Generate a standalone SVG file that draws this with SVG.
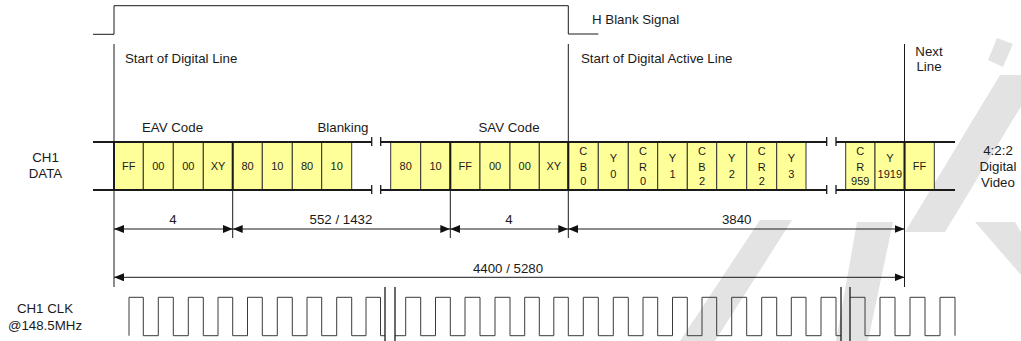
<svg xmlns="http://www.w3.org/2000/svg" width="1021" height="341" viewBox="0 0 1021 341">
<style>
.t{font-family:"Liberation Sans",Arial,sans-serif;font-size:13.3px;fill:#1a1a1a}
.m{text-anchor:middle}
.c{font-family:"Liberation Sans",Arial,sans-serif;font-size:11px;fill:#1a1a1a;text-anchor:middle}
.ln{stroke:#1a1a1a;stroke-width:1;fill:none}
.bar{stroke:#1a1a1a;stroke-width:2;fill:none}
.thk{stroke:#1a1a1a;stroke-width:2;fill:none}
.tick{stroke:#1a1a1a;stroke-width:1.3;fill:none}
.cell{fill:#FFFF99;stroke:#333;stroke-width:1}
.clk{stroke:#3a3a3a;stroke-width:1;fill:none}
.dim{stroke:#1a1a1a;stroke-width:1;fill:none;marker-start:url(#ah);marker-end:url(#ah)}
.wm{fill:#e3e3e3;stroke:none}
</style>
<defs>
<marker id="ah" viewBox="0 0 10 8" refX="10" refY="4" markerWidth="10" markerHeight="8" markerUnits="userSpaceOnUse" orient="auto-start-reverse"><path d="M0,0 L10,4 L0,8 z" fill="#111"/></marker>
</defs>
<rect width="1021" height="341" fill="#fff"/>

<g id="watermark">
<polygon class="wm" points="680,341 715,341 792,220 760,220"/>
<polygon class="wm" points="857,222 893,222 868,341 836,341"/>
<polygon class="wm" points="905,232 945,232 1040,75 1000,75"/>
<polygon class="wm" points="997,38 1013,44 1003,67 988,60"/>
<polygon class="wm" points="975,222 1015,222 1021,232 1021,275"/>
</g>

<g id="hblank">
<polyline class="ln" stroke-width="1.2" points="93,34.3 114,34.3 114,5.7 568.3,5.7 568.3,34 598.3,34"/>
<text class="t" x="592" y="24">H Blank Signal</text>
</g>

<g id="markers-text">
<text class="t" x="125" y="63">Start of Digital Line</text>
<text class="t" x="581" y="63">Start of Digital Active Line</text>
<text class="t m" x="929" y="55.5">Next</text>
<text class="t m" x="929" y="70.5">Line</text>
<text class="t m" x="172.5" y="131.5">EAV Code</text>
<text class="t" x="368.5" y="131.5" text-anchor="end">Blanking</text>
<text class="t m" x="509" y="131.5">SAV Code</text>
<text class="t m" x="45.5" y="162">CH1</text>
<text class="t m" x="45.5" y="177.5">DATA</text>
<text class="t m" x="998" y="155">4:2:2</text>
<text class="t m" x="998" y="170.5">Digital</text>
<text class="t m" x="998" y="186.5">Video</text>
<text class="t m" x="45" y="313">CH1 CLK</text>
<text class="t m" x="45" y="330">@148.5MHz</text>
</g>

<g id="data-cells">
<rect class="cell" x="114" y="142" width="29.3" height="48"/><text class="c" x="128.7" y="169.5">FF</text>
<rect class="cell" x="143.3" y="142" width="30" height="48"/><text class="c" x="158.3" y="169.5">00</text>
<rect class="cell" x="173.3" y="142" width="30" height="48"/><text class="c" x="188.3" y="169.5">00</text>
<rect class="cell" x="203.3" y="142" width="29.4" height="48"/><text class="c" x="218" y="169.5">XY</text>
<rect class="cell" x="232.7" y="142" width="29.6" height="48"/><text class="c" x="247.5" y="169.5">80</text>
<rect class="cell" x="262.3" y="142" width="30" height="48"/><text class="c" x="277.3" y="169.5">10</text>
<rect class="cell" x="292.3" y="142" width="29.4" height="48"/><text class="c" x="307" y="169.5">80</text>
<rect class="cell" x="321.7" y="142" width="30" height="48"/><text class="c" x="336.7" y="169.5">10</text>

<rect class="cell" x="390.7" y="142" width="30" height="48"/><text class="c" x="405.7" y="169.5">80</text>
<rect class="cell" x="420.7" y="142" width="29.6" height="48"/><text class="c" x="435.5" y="169.5">10</text>
<rect class="cell" x="450.3" y="142" width="29.7" height="48"/><text class="c" x="465.2" y="169.5">FF</text>
<rect class="cell" x="480" y="142" width="30" height="48"/><text class="c" x="495" y="169.5">00</text>
<rect class="cell" x="510" y="142" width="29.3" height="48"/><text class="c" x="524.7" y="169.5">00</text>
<rect class="cell" x="539.3" y="142" width="29" height="48"/><text class="c" x="553.8" y="169.5">XY</text>
<rect class="cell" x="568.3" y="142" width="30" height="48"/><text class="c" x="583.3" y="155">C</text><text class="c" x="583.3" y="170.5">B</text><text class="c" x="583.3" y="184.5">0</text>
<rect class="cell" x="598.3" y="142" width="30" height="48"/><text class="c" x="613.3" y="162">Y</text><text class="c" x="613.3" y="177.5">0</text>
<rect class="cell" x="628.3" y="142" width="29.4" height="48"/><text class="c" x="643" y="155">C</text><text class="c" x="643" y="170.5">R</text><text class="c" x="643" y="184.5">0</text>
<rect class="cell" x="657.7" y="142" width="29.6" height="48"/><text class="c" x="672.5" y="162">Y</text><text class="c" x="672.5" y="177.5">1</text>
<rect class="cell" x="687.3" y="142" width="29.4" height="48"/><text class="c" x="702" y="155">C</text><text class="c" x="702" y="170.5">B</text><text class="c" x="702" y="184.5">2</text>
<rect class="cell" x="716.7" y="142" width="30" height="48"/><text class="c" x="731.7" y="162">Y</text><text class="c" x="731.7" y="177.5">2</text>
<rect class="cell" x="746.7" y="142" width="30" height="48"/><text class="c" x="761.7" y="155">C</text><text class="c" x="761.7" y="170.5">R</text><text class="c" x="761.7" y="184.5">2</text>
<rect class="cell" x="776.7" y="142" width="29.3" height="48"/><text class="c" x="791.3" y="162">Y</text><text class="c" x="791.3" y="177.5">3</text>

<rect class="cell" x="845.7" y="142" width="29.3" height="48"/><text class="c" x="860.3" y="155">C</text><text class="c" x="860.3" y="170.5">R</text><text class="c" x="860.3" y="184.5">959</text>
<rect class="cell" x="875" y="142" width="29.7" height="48"/><text class="c" x="889.8" y="162">Y</text><text class="c" x="889.8" y="177.5">1919</text>
<rect class="cell" x="904.7" y="142" width="29.6" height="48"/><text class="c" x="919.5" y="169.5">FF</text>
</g>

<g id="data-bar">
<path class="bar" d="M93,142 H371.7 M93,190 H371.7 M380.7,142 H826.7 M380.7,190 H826.7 M836,142 H955 M836,190 H955"/>
<path class="tick" d="M371.7,137 V146 M371.7,185 V194 M380.7,137 V146 M380.7,185 V194 M826.7,137 V146 M826.7,185 V194 M836,137 V146 M836,185 V194"/>
<path class="thk" d="M114,142 V190 M232.7,142 V190 M450.3,142 V190 M568.3,142 V190 M904.5,142 V190"/>
</g>

<g id="connectors">
<path class="ln" d="M114,44 V287 M568.3,44 V238 M904.5,44 V287 M232.7,190 V238 M450.3,190 V238"/>
<path class="dim" d="M114,229 H232.7"/>
<path class="dim" d="M232.7,229 H450.3"/>
<path class="dim" d="M450.3,229 H568.3"/>
<path class="dim" d="M568.3,229 H904.5"/>
<path class="dim" d="M114,277.3 H904.5"/>
<text class="t m" x="173" y="224">4</text>
<text class="t m" x="341" y="224">552 / 1432</text>
<text class="t m" x="509" y="224">4</text>
<text class="t m" x="736.7" y="224">3840</text>
<text class="t m" x="508" y="272.5">4400 / 5280</text>
</g>

<g id="clock">
<path class="clk" d="M129,335.7 V297.3 H143.3 V335.7 H158.3 V297.3 H173.3 V335.7 H188.3 V297.3 H203.3 V335.7 H218 V297.3 H232.7 V335.7 H247.5 V297.3 H262.3 V335.7 H277.3 V297.3 H292.3 V335.7 H307 V297.3 H321.7 V335.7 H336.7 V297.3 H351.7 V335.7 H366 V297.3 H380.5 V335.7 H385"/>
<path class="clk" d="M395,335.7 H405.7 V297.3 H420.7 V335.7 H435.5 V297.3 H450.3 V335.7 H465 V297.3 H480 V335.7 H495 V297.3 H510 V335.7 H524.7 V297.3 H539.3 V335.7 H553.8 V297.3 H568.3 V335.7 H583.3 V297.3 H598.3 V335.7 H613.3 V297.3 H628.3 V335.7 H643 V297.3 H657.7 V335.7 H672.5 V297.3 H687.3 V335.7 H702 V297.3 H716.7 V335.7 H731.7 V297.3 H746.7 V335.7 H761.7 V297.3 H776.7 V335.7 H791.3 V297.3 H806 V335.7 H821 V297.3 H836 V335.7 H841"/>
<path class="clk" d="M850,297.3 H865 V335.7 H880 V297.3 H895 V335.7 H910 V297.3 H925 V335.7 H940 V297.3 H955 V335.7"/>
<path class="tick" d="M385,287 V341 M395,287 V341 M841,287 V341 M850,287 V341"/>
</g>
</svg>
